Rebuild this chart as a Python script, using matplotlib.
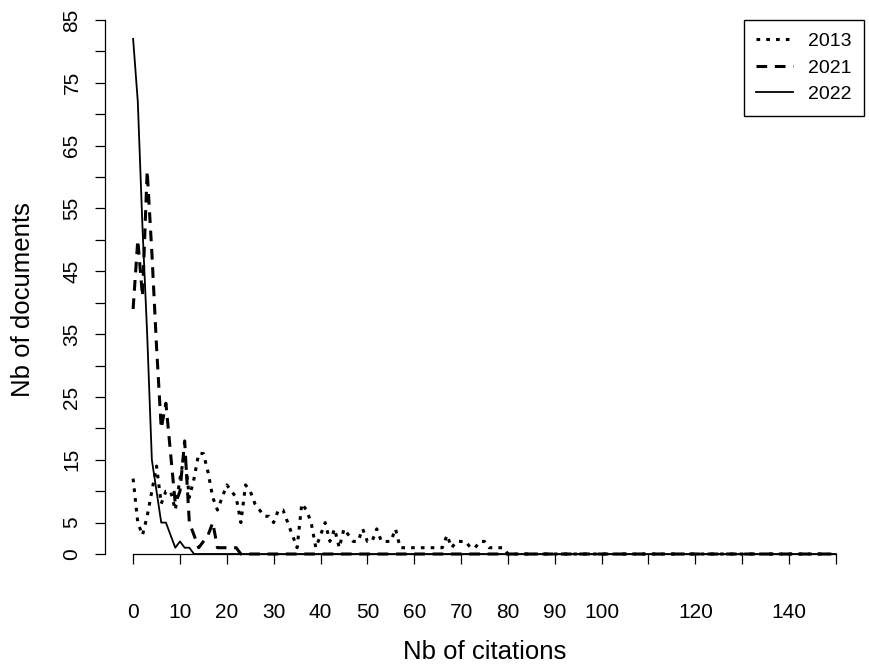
import matplotlib
matplotlib.use("Agg")
import matplotlib.pyplot as plt

plt.rcParams["font.family"] = ["Liberation Sans", "DejaVu Sans"]

# number of citations (0..150)
citations = list(range(151))

docs_2013 = [
    12, 5, 3, 6, 10, 14, 8, 10, 10, 7, 12, 16, 9, 12, 16, 16, 13, 9, 7, 9,
    11, 10, 9, 5, 11, 10, 8, 7, 6, 6, 5, 7, 7, 5, 3, 1, 8, 7, 5, 1,
    3, 5, 2, 4, 1, 4, 3, 2, 2, 4, 2, 2, 4, 2, 2, 2, 4, 1, 1, 1,
    1, 1, 1, 1, 1, 1, 1, 3, 1, 2, 2, 2, 1, 1, 2, 2, 1, 1, 1, 1,
    0, 0, 0, 0, 0, 0, 0, 0, 0, 0, 0, 0, 0, 0, 0, 0, 0, 0, 0, 0,
    0, 0, 0, 0, 0, 0, 0, 0, 0, 0, 0, 0, 0, 0, 0, 0, 0, 0, 0, 0,
    0, 0, 0, 0, 0, 0, 0, 0, 0, 0, 0, 0, 0, 0, 0, 0, 0, 0, 0, 0,
    0, 0, 0, 0, 0, 0, 0, 0, 0, 0, 0,
]

docs_2021 = [
    39, 50, 41, 61, 48, 33, 20, 24, 16, 8, 10, 18, 5, 3, 1, 2, 3, 5, 1, 1,
    1, 1, 1, 0, 0, 0, 0, 0, 0, 0, 0, 0, 0, 0, 0, 0, 0, 0, 0, 0,
    0, 0, 0, 0, 0, 0, 0, 0, 0, 0, 0, 0, 0, 0, 0, 0, 0, 0, 0, 0,
    0, 0, 0, 0, 0, 0, 0, 0, 0, 0, 0, 0, 0, 0, 0, 0, 0, 0, 0, 0,
    0, 0, 0, 0, 0, 0, 0, 0, 0, 0, 0, 0, 0, 0, 0, 0, 0, 0, 0, 0,
    0, 0, 0, 0, 0, 0, 0, 0, 0, 0, 0, 0, 0, 0, 0, 0, 0, 0, 0, 0,
    0, 0, 0, 0, 0, 0, 0, 0, 0, 0, 0, 0, 0, 0, 0, 0, 0, 0, 0, 0,
    0, 0, 0, 0, 0, 0, 0, 0, 0, 0, 0,
]

docs_2022 = [
    82, 72, 52, 35, 15, 10, 5, 5, 3, 1, 2, 1, 1, 0, 0, 0, 0, 0, 0, 0,
    0, 0, 0, 0, 0, 0, 0, 0, 0, 0, 0, 0, 0, 0, 0, 0, 0, 0, 0, 0,
    0, 0, 0, 0, 0, 0, 0, 0, 0, 0, 0, 0, 0, 0, 0, 0, 0, 0, 0, 0,
    0, 0, 0, 0, 0, 0, 0, 0, 0, 0, 0, 0, 0, 0, 0, 0, 0, 0, 0, 0,
    0, 0, 0, 0, 0, 0, 0, 0, 0, 0, 0, 0, 0, 0, 0, 0, 0, 0, 0, 0,
    0, 0, 0, 0, 0, 0, 0, 0, 0, 0, 0, 0, 0, 0, 0, 0, 0, 0, 0, 0,
    0, 0, 0, 0, 0, 0, 0, 0, 0, 0, 0, 0, 0, 0, 0, 0, 0, 0, 0, 0,
    0, 0, 0, 0, 0, 0, 0, 0, 0, 0, 0,
]

series_labels = ["2013", "2021", "2022"]

x_ticks = list(range(0, 151, 10))
x_tick_labels = ["0", "10", "20", "30", "40", "50", "60", "70", "80", "90",
                 "100", "", "120", "", "140", ""]
y_ticks = list(range(0, 86, 5))
y_tick_labels = ["0", "5", "", "15", "", "25", "", "35", "", "45", "",
                 "55", "", "65", "", "75", "", "85"]

W, H = 869, 668
fig = plt.figure(figsize=(W / 100, H / 100), dpi=100)
ax = fig.add_axes([105 / W, (H - 554) / H, (864 - 105) / W, (554 - 20) / H])

ax.plot(citations, docs_2013, color="black", lw=2.2,
        linestyle=(0, (1.2, 2.0)), label=series_labels[0], clip_on=False)
ax.plot(citations, docs_2021, color="black", lw=2.2,
        linestyle=(0, (3.5, 2.5)), label=series_labels[1], clip_on=False)
ax.plot(citations, docs_2022, color="black", lw=1.3,
        linestyle="-", label=series_labels[2], clip_on=False)

ax.set_xlim(-6, 156)
ax.set_ylim(0, 85)

# R-style detached axes
for side in ["top", "right"]:
    ax.spines[side].set_visible(False)
ax.spines["left"].set_bounds(0, 85)
ax.spines["bottom"].set_bounds(0, 150)
ax.spines["left"].set_linewidth(0.9)
ax.spines["bottom"].set_linewidth(0.9)

ax.set_xticks(x_ticks)
ax.set_xticklabels(x_tick_labels)
ax.set_yticks(y_ticks)
ax.set_yticklabels(y_tick_labels, rotation=90, va="center")
ax.tick_params(axis="x", direction="out", length=7.5, width=0.9,
               labelsize=15, pad=28)
ax.tick_params(axis="y", direction="out", length=7, width=0.9,
               labelsize=15, pad=10)

leg = ax.legend(loc="upper right", bbox_to_anchor=(1, 1), borderaxespad=0,
                fancybox=False, edgecolor="black", framealpha=1,
                fontsize=14, handlelength=1.9, handletextpad=0.75,
                borderpad=0.65, labelspacing=0.45)
leg.get_frame().set_linewidth(1.0)

fig.text(484.5 / W, 1 - 652 / H, "Nb of citations", fontsize=18.5,
         ha="center", va="center")
fig.text(23 / W, 1 - 300 / H, "Nb of documents", fontsize=18.5,
         ha="center", va="center", rotation=90)

fig.savefig("out.png", dpi=100)
